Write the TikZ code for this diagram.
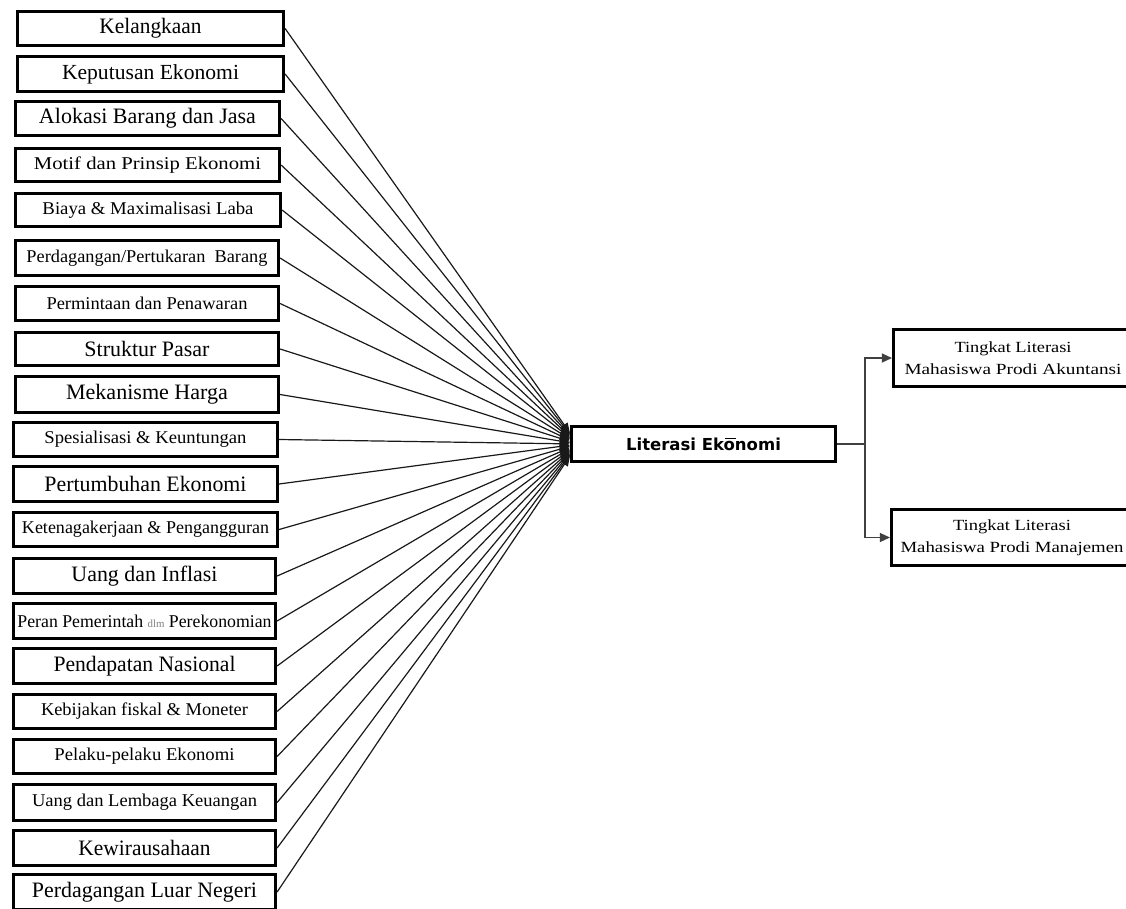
\documentclass[tikz,border=0pt]{standalone}
\usepackage{fontspec}
\setmainfont{Liberation Serif}
\newfontfamily\vsans{DejaVu Sans}
\usetikzlibrary{arrows.meta}
\tikzset{
  lbox/.style={draw=black, line width=3.2pt, fill=white, inner sep=0pt, align=center},
  midbox/.style={draw=black, line width=2.6pt, fill=white, inner sep=0pt, align=center},
  conn/.style={draw=black!90, line width=1.2pt},
  inarrow/.style={-{Triangle[length=10pt,width=8pt]}},
  outconn/.style={draw=black!75, line width=1.3pt},
  outarrow/.style={-{Triangle[length=10pt,width=9pt]}}
}
\newcommand\lbox[8]{%
  \pgfmathsetmacro\cx{(#2+#3)/2}\pgfmathsetmacro\cy{(#4+#5)/2}%
  \pgfmathsetmacro\bw{#3-#2-3}\pgfmathsetmacro\bh{#5-#4-3}%
  \node[lbox, minimum width=\bw pt, minimum height=\bh pt] (#1) at (\cx,\cy)
    {\resizebox{#6pt}{\height}{\fontsize{#7}{#7}\selectfont #8}};}
\begin{document}
\begin{tikzpicture}[x=1pt,y=-1pt]
\useasboundingbox (0,0) rectangle (1126,908);
\lbox{b1}{16}{285}{10}{47}{102}{22}{Kelangkaan}
\lbox{b2}{16}{285}{55}{93}{177}{21.5}{Keputusan Ekonomi}
\lbox{b3}{14}{281}{100}{137}{217}{22}{Alokasi Barang dan Jasa}
\lbox{b4}{14}{281}{147}{183}{227}{18}{Motif dan Prinsip Ekonomi}
\lbox{b5}{14}{282}{192}{228}{211}{18}{Biaya \& Maximalisasi Laba}
\lbox{b6}{14}{280}{239}{277}{241}{18}{Perdagangan/Pertukaran\ \ Barang}
\lbox{b7}{14}{280}{285}{322}{201}{18}{Permintaan dan Penawaran}
\lbox{b8}{14}{280}{331}{367}{125}{22}{Struktur Pasar}
\lbox{b9}{14}{280}{375}{414}{162}{22}{Mekanisme Harga}
\lbox{b10}{12}{279}{421}{458}{202}{18}{Spesialisasi \& Keuntungan}
\lbox{b11}{12}{279}{465}{503}{202}{22}{Pertumbuhan Ekonomi}
\lbox{b12}{12}{279}{511}{548}{247}{18}{Ketenagakerjaan \& Pengangguran}
\lbox{b13}{12}{277}{557}{595}{146}{22}{Uang dan Inflasi}
\lbox{b14}{12}{277}{602}{640}{254}{18}{Peran Pemerintah {\fontsize{11}{11}\selectfont\color{black!50}dlm} Perekonomian}
\lbox{b15}{12}{277}{647}{685}{182}{22}{Pendapatan Nasional}
\lbox{b16}{12}{277}{693}{730}{207}{18}{Kebijakan fiskal \& Moneter}
\lbox{b17}{12}{277}{738}{775}{180}{18}{Pelaku-pelaku Ekonomi}
\lbox{b18}{12}{277}{783}{822}{225}{18}{Uang dan Lembaga Keuangan}
\lbox{b19}{12}{277}{829}{867}{132}{22}{Kewirausahaan}
\lbox{b20}{12}{277}{873}{911}{225}{22}{Perdagangan Luar Negeri}

\node[midbox, minimum width=264.5pt, minimum height=34.5pt] (lit) at (703.5,444)
  {\vsans\bfseries\fontsize{16.5}{16.5}\selectfont Literasi Ekonomi};
\node[midbox, minimum width=239.5pt, minimum height=57.5pt,
      font=\fontsize{15.5}{22}\selectfont] (ta) at (1013,358)
  {\resizebox{117pt}{\height}{Tingkat Literasi}\\
   \resizebox{217pt}{\height}{Mahasiswa Prodi Akuntansi}};
\node[midbox, minimum width=241.5pt, minimum height=56.5pt,
      font=\fontsize{15.5}{22}\selectfont] (tb) at (1012,537.5)
  {\resizebox{118pt}{\height}{Tingkat Literasi}\\
   \resizebox{223pt}{\height}{Mahasiswa Prodi Manajemen}};

\foreach \i [evaluate=\i as \sh using {11-(\i-1)*23/19}] in {1,...,20}
  \draw[conn, inarrow] (b\i.east) -- ([yshift=\sh pt]lit.west);

\draw[line width=1pt] (725,438.5) -- (736,438.5);

\coordinate (j) at (865,444);
\draw[outconn] (lit.east) -- (j);
\draw[outconn, outarrow] (j) |- (ta.west);
\draw[outconn, outarrow] (j) |- (tb.west);
\end{tikzpicture}
\end{document}
